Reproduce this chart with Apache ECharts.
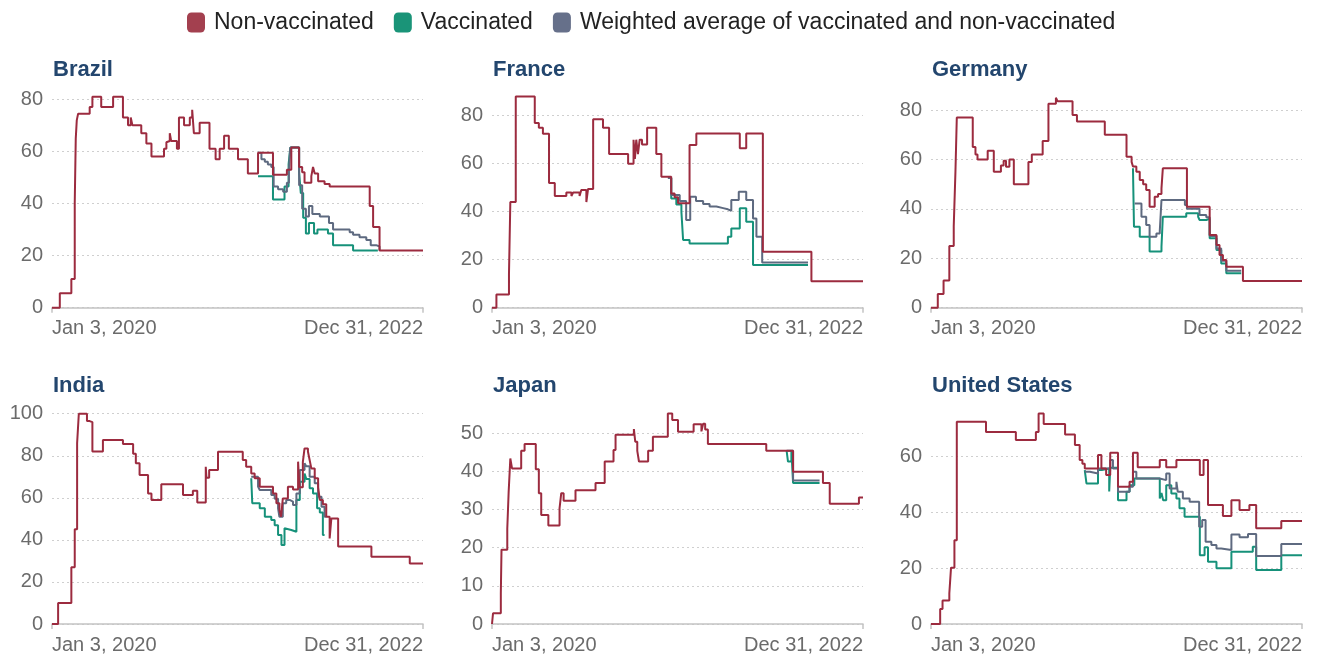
<!DOCTYPE html>
<html>
<head>
<meta charset="utf-8">
<script src="https://cdn.jsdelivr.net/npm/echarts@6/dist/echarts.min.js"></script>
<style>
html,body{margin:0;padding:0;background:#fff;}
#chart{width:1318px;height:656px;}
</style>
</head>
<body>
<div id="chart"></div>
<script>
// x values: days since Jan 3, 2020 ; y values: index
const countries = ['Brazil', 'France', 'Germany', 'India', 'Japan', 'United States'];
const seriesNames = ['Non-vaccinated', 'Vaccinated', 'Weighted average of vaccinated and non-vaccinated'];
const xTickLabels = ['Jan 3, 2020', 'Dec 31, 2022'];
const xDays = [0, 1093];
const yTickMax = [80, 80, 80, 100, 50, 60];
const yTickStep = [20, 20, 20, 20, 10, 20];

const brazilNon = [[0,0],[23,5.5],[57,11],[67,40],[70,65],[73,72],[77,74.5],[111,77],[119,81],[145,77],[180,81],[209,73],[224,70],[232,73],[237,70],[263,67],[278,63],[293,58],[330,61],[337,63.5],[342,64],[347,67],[351,64],[368,61],[374,73],[389,70],[406,73],[413,76],[418,67],[435,71],[464,61],[482,57],[494,61],[507,66],[521,61],[548,57],[577,51.5],[607,59.5],[651,51],[692,53],[705,61.5],[728,54],[737,52],[744,48],[764,50.5],[769,54],[774,51.5],[784,48.5],[803,47.5],[818,46.5],[936,39],[946,31],[965,22],[1093,22]];
const brazilVax = [[607,50.5],[651,41.5],[685,46.5],[697,55],[702,61.5],[728,52],[733,44],[740,34.5],[748,28.5],[757,32.5],[772,28.5],[782,30],[813,28.5],[828,24],[887,22],[960,22]];
const brazilAvg = [[607,59.5],[617,57],[627,56],[636,55],[646,54],[653,46.5],[666,45.5],[681,44.5],[692,48],[698,53],[702,61.5],[728,47],[737,38],[748,35],[757,39],[767,36],[789,35],[816,32.5],[828,30],[877,29],[887,28],[906,27],[926,26],[939,24],[955,23.5],[965,22]];

const franceNon = [[0,0],[13,5.5],[50,14],[54,44],[70,88],[126,77],[138,75],[150,72.5],[168,52],[185,46.5],[219,48],[234,46.5],[239,48],[258,46.5],[263,49],[278,44],[283,49.5],[298,78.5],[327,75],[345,64],[401,60],[417,70],[421,62],[425,70],[430,64],[435,70],[442,68],[457,75],[484,64],[499,54.6],[528,47.6],[538,46],[548,43.5],[582,67.8],[602,72.6],[730,66.4],[749,72.6],[798,23.3],[941,11],[1093,11]];
const franceVax = [[521,54],[528,45.5],[543,43],[558,40],[563,28.2],[582,26.8],[695,29.6],[705,33],[730,41.4],[749,35.8],[769,17.8],[931,17.8]];
const franceAvg = [[518,54],[528,47],[553,44.5],[572,36.5],[584,46.2],[601,44.5],[622,43.2],[641,42.2],[661,41.5],[681,41],[695,40.4],[705,44.9],[727,48.3],[749,44.9],[769,37.2],[779,29.6],[796,18.8],[931,18.8]];

const germanyNon = [[0,0],[20,5.5],[37,11],[54,25],[67,33],[72,55],[76,77],[123,65],[131,62],[137,60],[167,63.5],[185,55],[206,57.5],[214,59.5],[221,57],[231,60],[244,50],[287,59],[297,62],[329,67.5],[346,82.5],[368,85],[373,83.5],[417,78],[430,75.3],[512,70],[576,61.1],[591,59],[595,57.1],[605,55],[615,51.7],[625,50],[634,47.6],[644,40.9],[659,44.9],[669,46],[679,48.3],[683,56.4],[754,40.9],[821,29.4],[841,25.4],[850,21.3],[860,19.3],[870,16.6],[919,10.8],[1093,10.8]];
const germanyVax = [[595,56.4],[598,32.8],[615,28.7],[644,22.7],[679,24.7],[683,36.8],[752,38.2],[787,36.8],[791,35.5],[811,36],[821,28.1],[841,23.3],[855,17.9],[870,13.9],[914,13.9]];
const germanyAvg = [[600,42.2],[620,36.8],[634,33.5],[644,28.7],[664,30],[674,31],[679,43.6],[748,41.6],[754,40],[791,37.5],[811,36.6],[821,29],[841,24],[855,19],[870,15],[914,15]];

const indiaNon = [[0,0],[18,10],[57,27],[67,45],[74,86],[79,100],[103,96.5],[111,96],[119,82],[150,87.5],[209,85.6],[239,81],[247,76.4],[258,70.8],[283,62.1],[293,59],[322,66.4],[386,61.3],[415,63.4],[428,57.8],[453,74.8],[455,69.6],[463,73.2],[489,81.9],[562,78],[572,74.8],[587,71.6],[597,69.3],[612,65.3],[651,62.1],[661,57.4],[670,54.2],[675,51],[680,59.7],[695,65.3],[710,64],[725,77.2],[729,65],[739,77],[744,83.5],[754,82],[759,78],[764,74],[774,69.3],[784,65],[789,59],[798,57],[808,51],[818,40.7],[823,50.2],[843,36.8],[941,32],[1054,28.8],[1093,28.8]];
const indiaVax = [[587,69.3],[590,57.4],[612,55],[627,51],[646,49.4],[656,47],[666,42.3],[676,37.6],[685,45.5],[690,44.7],[705,43.9],[720,59],[730,67.7],[744,71.6],[749,69],[759,64.5],[769,62],[781,55],[789,53],[798,42.3],[803,42.3]];
const indiaAvg = [[587,70],[607,65.3],[612,63.7],[646,61.3],[656,59.5],[666,55],[670,51],[680,57.4],[690,59],[700,58.2],[710,56.6],[720,62],[730,73.2],[744,76.4],[749,75],[759,70],[774,66.9],[784,60.5],[794,55.8],[803,51],[808,51]];

const japanNon = [[0,0],[3,2.8],[26,8],[28,19.5],[45,25],[49,34.5],[54,43.4],[59,40.8],[86,45.4],[96,47.2],[129,40.6],[138,34.3],[145,28.6],[166,25.8],[199,30.3],[204,34.3],[211,32.3],[246,35.1],[305,37],[332,42.6],[358,45.6],[364,49.6],[418,51.1],[422,47.8],[428,45.4],[433,42.6],[460,45.4],[474,49.1],[518,55.2],[531,53.5],[548,50.4],[594,52.4],[617,50.5],[622,52.5],[628,51],[636,47.2],[808,45.4],[887,39.9],[975,37],[995,31.5],[1081,33.2],[1093,33.2]];
const japanVax = [[868,45.4],[872,42.6],[882,45.4],[887,37],[965,37]];
const japanAvg = [[868,45.4],[887,37.6],[965,37.6]];

const usNon = [[0,0],[27,5.4],[34,8.4],[54,11],[59,20.2],[69,30],[76,72.5],[162,68.9],[250,66],[309,68.9],[317,75.5],[332,71.7],[395,68],[424,64.2],[438,58.8],[446,57.5],[453,55.8],[492,60.6],[502,55.8],[516,53.4],[528,61.4],[551,49.2],[585,51],[595,61.4],[609,56.2],[674,58.8],[693,56.2],[723,58.8],[792,53.4],[803,58.8],[816,42.7],[860,38.7],[885,44.4],[909,40.9],[938,42.7],[958,34.3],[1032,36.9],[1093,36.9]];
const usVax = [[453,55.2],[458,50.4],[492,55.2],[503,55.8],[525,47.5],[528,56],[551,44.4],[576,47.4],[585,49.8],[599,52.2],[674,45],[679,47],[684,44.4],[693,49.8],[708,46.8],[723,45],[732,41.5],[747,38.5],[792,24.7],[806,27.5],[816,22.3],[841,20],[885,25.9],[948,27.7],[958,19.4],[1032,24.7],[1093,24.7]];
const usAvg = [[453,54.6],[468,54],[492,55.8],[528,58.8],[536,55.8],[551,47.4],[585,49.2],[595,54.6],[605,52.2],[674,51.6],[693,54],[703,48.6],[723,51],[727,47.4],[742,45],[762,43.8],[790,34.9],[799,37.3],[809,29.5],[826,28.3],[841,27.1],[855,26.5],[885,32.1],[909,31.1],[934,32.3],[958,24.4],[1032,28.7],[1093,28.7]];

const nonData = [brazilNon, franceNon, germanyNon, indiaNon, japanNon, usNon];
const vaxData = [brazilVax, franceVax, germanyVax, indiaVax, japanVax, usVax];
const avgData = [brazilAvg, franceAvg, germanyAvg, indiaAvg, japanAvg, usAvg];

// ---- layout / style ----
const colors = ['#9c2b3f', '#16917a', '#5e6a80'];
const legendColors = ['#a3404f', '#1a9478', '#66708a'];
const FONT = '"Liberation Sans", Arial, sans-serif';
const colLeft = [52, 492, 931];
const plotW = 371;
const rowBottom = [307.7, 624];
const rowPx = [[99.3, 115.7, 110], [413.7, 433.3, 456.7]];
const titleTop = [59, 375];

const grids = [], xAxes = [], yAxes = [], titles = [], series = [];
countries.forEach((name, i) => {
  const r = Math.floor(i / 3), c = i % 3;
  const top = rowPx[r][c];
  grids.push({ left: colLeft[c], width: plotW, top: top, height: rowBottom[r] - top });
  titles.push({
    text: name, left: colLeft[c] + 1, top: titleTop[r], padding: 0,
    textStyle: { fontFamily: FONT, fontSize: 22, fontWeight: 'bold', color: '#23466e' }
  });
  xAxes.push({
    type: 'value', gridIndex: i, min: xDays[0], max: xDays[1], interval: xDays[1] - xDays[0],
    axisLine: { show: true, lineStyle: { color: '#c4c4c4', width: 1.5 } },
    axisTick: { show: true, length: 5, lineStyle: { color: '#c4c4c4', width: 1.5 } },
    splitLine: { show: false },
    axisLabel: {
      fontFamily: FONT, fontSize: 20, color: '#6b6b6b', margin: 11,
      alignMinLabel: 'left', alignMaxLabel: 'right',
      formatter: v => (v === xDays[0] ? xTickLabels[0] : xTickLabels[1])
    }
  });
  yAxes.push({
    type: 'value', gridIndex: i, min: 0, max: yTickMax[i], interval: yTickStep[i],
    axisLine: { show: false }, axisTick: { show: false },
    splitLine: { show: true, lineStyle: { color: '#cfcfcf', width: 1, type: [2, 3] } },
    axisLabel: { fontFamily: FONT, fontSize: 20, color: '#6b6b6b', margin: 9 }
  });
  const sets = [nonData[i], vaxData[i], avgData[i]];
  const zs = [5, 3, 4];
  sets.forEach((d, k) => {
    series.push({
      name: seriesNames[k], type: 'line', step: 'end', xAxisIndex: i, yAxisIndex: i,
      data: d, showSymbol: false, symbol: 'none', clip: false, z: zs[k],
      color: legendColors[k], lineStyle: { color: colors[k], width: 2 },
      emphasis: { disabled: true }
    });
  });
});

const chart = echarts.init(document.getElementById('chart'), null, { renderer: 'canvas' });
chart.setOption({
  animation: false,
  textStyle: { fontFamily: FONT },
  title: titles,
  legend: {
    data: seriesNames, left: 187, top: 11, padding: 0, icon: 'roundRect',
    itemWidth: 18, itemHeight: 20, itemGap: 20,
    textStyle: { fontFamily: FONT, fontSize: 23, color: '#222', padding: [0, 0, 0, 4] }
  },
  grid: grids, xAxis: xAxes, yAxis: yAxes, series: series
});
</script>
</body>
</html>
